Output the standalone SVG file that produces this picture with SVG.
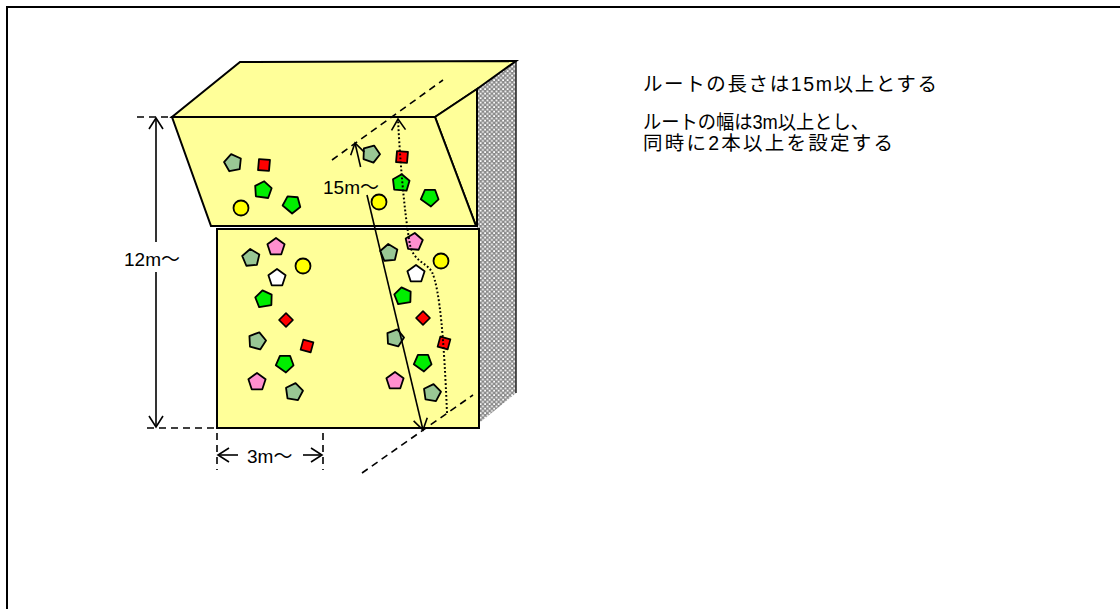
<svg xmlns="http://www.w3.org/2000/svg" xmlns:xlink="http://www.w3.org/1999/xlink" width="1120" height="609" viewBox="0 0 1120 609">
<style>
.face{fill:#FFFF99;stroke:#000;stroke-width:2;stroke-linejoin:miter}
.ln{fill:none;stroke:#000;stroke-width:1.6}
.dash{fill:none;stroke:#000;stroke-width:1.6;stroke-dasharray:7,5}
.dot{fill:none;stroke:#000;stroke-width:2;stroke-dasharray:1.8,2.2}
.h{stroke:#000;stroke-width:1.8;stroke-linejoin:round}
.gg{fill:#99C794}
.gr{fill:#00EE00}
.rd{fill:#FF0000}
.ye{fill:#FFFF00}
.pk{fill:#FF8FCF}
.wh{fill:#FFFFFF}
.lbl{font-family:"Liberation Sans","Noto Sans CJK JP",sans-serif;font-size:19px;fill:#000}
.txt{font-family:"Liberation Sans","Noto Sans CJK JP",sans-serif;font-size:19.5px;fill:#000}
</style>
<defs>
<pattern id="mesh" width="4.5" height="4.5" patternUnits="userSpaceOnUse">
<rect width="4.5" height="4.5" fill="#8A8A8A"/>
<rect x="0.5" y="0.5" width="1.8" height="1.8" fill="#FFFFFF"/>
<rect x="2.75" y="2.75" width="1.8" height="1.8" fill="#FFFFFF"/>
</pattern>
<path id="pent" d="M0,-9 L8.6,-2.8 L5.3,7.3 L-5.3,7.3 L-8.6,-2.8 Z"/>
<path id="gpent" d="M0,-8.8 L8.3,-3 L6.2,7.2 L-6.2,7.2 L-8.3,-3 Z"/>
<rect id="sq" x="-5.5" y="-5.5" width="11" height="11"/>
<circle id="circ" r="7.5"/>
<marker id="arr" markerUnits="userSpaceOnUse" markerWidth="24" markerHeight="24" viewBox="-12 -12 24 24" refX="0" refY="0" orient="auto">
<path d="M-11,-7 L0,0 L-11,7" fill="none" stroke="#000" stroke-width="1.6"/>
</marker>
</defs>

<rect id="frame" x="7" y="7" width="1130" height="620" fill="none" stroke="#000" stroke-width="2"/>

<g id="wall">
<polygon points="477,89 516,61 516,393 478,424 478,228 477,228" fill="url(#mesh)"/>
<line x1="516" y1="61" x2="516" y2="393" stroke="#222" stroke-width="1.5"/>
</g>

<g id="lower-block">
<rect class="face" x="217" y="229" width="262" height="199"/>
</g>

<g id="overhang">
<polygon class="face" points="172,117 435,117 477,89 516,61 240,62"/>
<polygon class="face" points="435,117 477,89 477,226 476,226"/>
<polygon class="face" points="172,117 435,117 476,226 211,226"/>
</g>

<g id="holds">
<use xlink:href="#pent" class="h gg" transform="translate(233,163) rotate(-12)"/>
<use xlink:href="#sq" class="h rd" transform="translate(264,165) rotate(5)"/>
<use xlink:href="#gpent" class="h gr" transform="translate(263,190) rotate(8)"/>
<use xlink:href="#circ" class="h ye" transform="translate(241,208)"/>
<use xlink:href="#gpent" class="h gr" transform="translate(292,204) rotate(40)"/>
<use xlink:href="#pent" class="h gg" transform="translate(371,154) rotate(20)"/>
<use xlink:href="#sq" class="h rd" transform="translate(402,157) rotate(5)"/>
<use xlink:href="#gpent" class="h gr" transform="translate(401,183) rotate(5)"/>
<use xlink:href="#circ" class="h ye" transform="translate(379,202)"/>
<use xlink:href="#gpent" class="h gr" transform="translate(430,197) rotate(35)"/>

<use xlink:href="#pent" class="h pk" transform="translate(276,247)"/>
<use xlink:href="#pent" class="h gg" transform="translate(251,258) rotate(-5)"/>
<use xlink:href="#circ" class="h ye" transform="translate(303,266)"/>
<use xlink:href="#pent" class="h wh" transform="translate(277,278)"/>
<use xlink:href="#gpent" class="h gr" transform="translate(264,299) rotate(-10)"/>
<use xlink:href="#sq" class="h rd" transform="translate(286,320) rotate(45) scale(0.9)"/>
<use xlink:href="#pent" class="h gg" transform="translate(257,341) rotate(15)"/>
<use xlink:href="#sq" class="h rd" transform="translate(307,346) rotate(15) scale(0.95)"/>
<use xlink:href="#gpent" class="h gr" transform="translate(285,363) rotate(35)"/>
<use xlink:href="#pent" class="h pk" transform="translate(257,382)"/>
<use xlink:href="#pent" class="h gg" transform="translate(294,392) rotate(10)"/>

<use xlink:href="#pent" class="h gg" transform="translate(389,253) rotate(-5)"/>
<use xlink:href="#pent" class="h pk" transform="translate(414,242) rotate(5)"/>
<use xlink:href="#circ" class="h ye" transform="translate(441,261)"/>
<use xlink:href="#pent" class="h wh" transform="translate(416,274)"/>
<use xlink:href="#gpent" class="h gr" transform="translate(403,296) rotate(-10)"/>
<use xlink:href="#sq" class="h rd" transform="translate(423,318) rotate(45) scale(0.9)"/>
<use xlink:href="#pent" class="h gg" transform="translate(395,338) rotate(15)"/>
<use xlink:href="#sq" class="h rd" transform="translate(444,343) rotate(15) scale(0.95)"/>
<use xlink:href="#gpent" class="h gr" transform="translate(423,362) rotate(35)"/>
<use xlink:href="#pent" class="h pk" transform="translate(395,381)"/>
<use xlink:href="#pent" class="h gg" transform="translate(432,393) rotate(10)"/>
</g>

<g id="connectors">
<line class="dash" x1="137" y1="117" x2="172" y2="117"/>
<line class="dash" x1="147" y1="428" x2="217" y2="428"/>
<line class="ln" x1="156" y1="242" x2="156" y2="118" marker-end="url(#arr)"/>
<line class="ln" x1="156" y1="272" x2="156" y2="427" marker-end="url(#arr)"/>
<line class="dash" x1="217" y1="433" x2="217" y2="470"/>
<line class="dash" x1="323" y1="433" x2="323" y2="470"/>
<line class="ln" x1="238" y1="455" x2="218" y2="455" marker-end="url(#arr)"/>
<line class="ln" x1="303" y1="455" x2="322" y2="455" marker-end="url(#arr)"/>
<line class="dash" x1="332" y1="160" x2="443" y2="80"/>
<line class="dash" x1="362" y1="473" x2="473" y2="395"/>
<line class="ln" x1="360.6" y1="167" x2="355" y2="143" marker-end="url(#arr)"/>
<line class="ln" x1="367" y1="195" x2="423" y2="430" marker-end="url(#arr)"/>
<path class="dot" d="M447,413 C444,340 440,290 432,272 C426,262 414,262 410,245 C404,210 400,160 398,119" marker-end="url(#arr)"/>
</g>

<g id="labels">
<text class="lbl" x="124" y="266">12m〜</text>
<text class="lbl" x="323" y="194">15m〜</text>
<text class="lbl" x="247" y="463">3m〜</text>
</g>

<g id="notes">
<text class="txt" x="643" y="91" textLength="294" lengthAdjust="spacing">ルートの長さは15m以上とする</text>
<text class="txt" x="643" y="129" textLength="226" lengthAdjust="spacingAndGlyphs">ルートの幅は3m以上とし、</text>
<text class="txt" x="643" y="150" textLength="250" lengthAdjust="spacing">同時に2本以上を設定する</text>
</g>
</svg>
